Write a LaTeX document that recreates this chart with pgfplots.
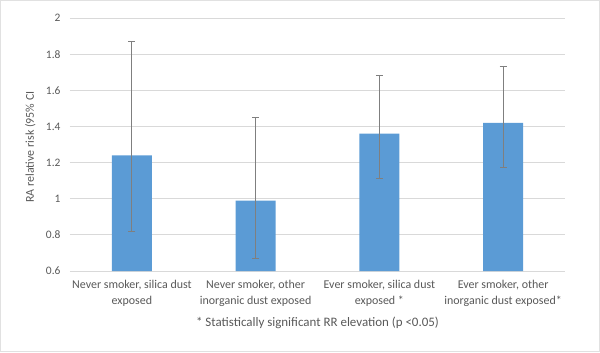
\documentclass[border=0pt]{standalone}
\usepackage{pgfplots}
\pgfplotsset{compat=1.18}
\usepackage{pgfplotstable}
\usepackage{fontspec}
\setmainfont{Carlito}
\definecolor{barblue}{HTML}{5B9BD5}
\definecolor{gridgray}{HTML}{D9D9D9}
\definecolor{txtgray}{HTML}{595959}
\definecolor{errgray}{HTML}{7F7F7F}
\pgfplotstableread{
x y ep em
0 1.24 0.63 0.42
1 0.99 0.46 0.32
2 1.36 0.32 0.25
3 1.42 0.31 0.25
}\datatable
\begin{document}
\begin{tikzpicture}[x=1bp,y=1bp]
\useasboundingbox (-70,-81) rectangle (530,271);
\draw[gridgray!80, line width=1bp] (-69.5,-80.5) rectangle (529.5,270.5);
\begin{axis}[
  at={(0,0)}, anchor=south west,
  scale only axis, width=495bp, height=253bp,
  xmin=-0.5, xmax=3.5, ymin=0.6, ymax=2,
  ytick={0.6,0.8,1,1.2,1.4,1.6,1.8,2},
  yticklabels={0.6,0.8,1,1.2,1.4,1.6,1.8,2},
  ymajorgrids, grid style={gridgray, line width=0.8bp},
  axis x line*=bottom, axis y line*=left,
  x axis line style={gridgray, line width=0.8bp, -},
  y axis line style={draw=none, -},
  xtick={0,1,2,3}, major tick length=0pt,
  tick style={draw=none},
  xticklabels={{Never smoker, silica dust\\exposed},{Never smoker, other\\inorganic dust exposed},{Ever smoker, silica dust\\exposed *},{Ever smoker, other\\inorganic dust exposed*}},
  xticklabel style={align=center, font=\fontsize{12}{16}\selectfont, text=txtgray, yshift=-6bp},
  yticklabel style={font=\fontsize{11.5}{12}\selectfont, text=txtgray, xshift=-6bp},
  ylabel={RA relative risk (95\% CI},
  ylabel style={font=\fontsize{12}{12}\selectfont, text=txtgray, at={(axis description cs:-0.08,0.49)}, anchor=center},
  clip=false,
]
\addplot[ybar, bar width=40bp, fill=barblue, draw=none,
  error bars/.cd, y dir=both, y explicit,
  error bar style={errgray, line width=1bp},
  error mark options={errgray, line width=1bp, rotate=90, mark size=3.5bp}]
  table[x=x, y=y, y error plus=ep, y error minus=em] {\datatable};
\node[font=\fontsize{13}{14}\selectfont, text=txtgray] at (axis cs:1.5,0.6) [yshift=-52bp] {* Statistically significant RR elevation (p <0.05)};
\end{axis}
\end{tikzpicture}
\end{document}
